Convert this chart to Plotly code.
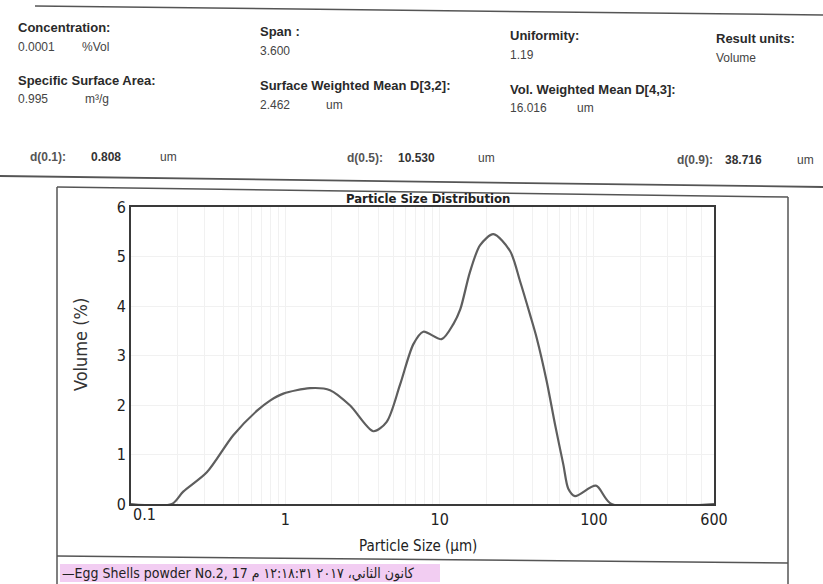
import plotly.graph_objects as go

# ---------------- data ----------------
size_um = [0.1, 0.184, 0.218, 0.310, 0.460, 0.653, 0.796, 0.971, 1.445, 1.95, 2.63,
           3.72, 4.54, 5.54, 6.76, 7.84, 10.3, 12.3, 13.6, 15.7, 18.3, 22.3, 28.6,
           33.2, 38.5, 42.6, 49.4, 56.0, 63.4, 68.2, 75.4, 103, 130, 600]
volume_pct = [0, 0, 0.25, 0.64, 1.39, 1.88, 2.09, 2.23, 2.34, 2.30, 1.99,
              1.47, 1.66, 2.41, 3.23, 3.48, 3.33, 3.64, 3.93, 4.68, 5.23, 5.45, 5.11,
              4.50, 3.83, 3.35, 2.48, 1.60, 0.79, 0.31, 0.16, 0.37, 0, 0]

x_label_vals = [0.1, 1, 10, 100, 600]
x_label_text = ["0.1", "1", "10", "100", "600"]
x_minor_grid = [0.2, 0.3, 0.4, 0.5, 0.6, 0.7, 0.8, 0.9,
                2, 3, 4, 5, 6, 7, 8, 9,
                20, 30, 40, 50, 60, 70, 80, 90, 200, 300, 400, 500]
y_ticks = [0, 1, 2, 3, 4, 5, 6]

header_labels = ["Concentration:", "Span :", "Uniformity:", "Result units:",
                 "Specific Surface Area:", "Surface Weighted Mean D[3,2]:",
                 "Vol. Weighted Mean D[4,3]:"]
header_values = ["0.0001", "3.600", "1.19", "Volume", "0.995", "2.462", "16.016"]
header_units = ["%Vol", "", "", "", "m³/g", "um", "um"]
d_labels = ["d(0.1):", "d(0.5):", "d(0.9):"]
d_values = ["0.808", "10.530", "38.716"]
sample_name = "Egg Shells powder No.2, 17\u200e كانون الثاني، ٢٠١٧ ١٢:١٨:٣١ م"

# ---------------- geometry helpers ----------------
W, H = 823, 584
L, R, T, B = 131, 714, 207, 504


def px(x):
    return (x - L) / (R - L)


def py(y):
    return (B - y) / (B - T)


NARROW = "Liberation Sans Narrow, DejaVu Sans Condensed, Arial Narrow, Roboto, sans-serif"
ARIAL = "Liberation Sans, Arial, sans-serif"

fig = go.Figure()
fig.add_trace(go.Scatter(
    x=size_um, y=volume_pct, mode="lines",
    line=dict(color="#5e5e5e", width=2.2, shape="spline", smoothing=0.8),
    showlegend=False, hoverinfo="x+y"))

grid_vals = sorted(x_label_vals + x_minor_grid)
# first label (0.1) is drawn as an annotation, nudged right as in the reference
grid_text = [x_label_text[x_label_vals.index(v)] if (v in x_label_vals and v != x_label_vals[0]) else ""
             for v in grid_vals]

fig.update_xaxes(type="log", range=[-1, 2.778], tickvals=grid_vals, ticktext=grid_text,
                 showgrid=True, gridcolor="#f1f1f1", gridwidth=1,
                 showline=True, linecolor="#3a3a3a", linewidth=1.6, mirror=True,
                 ticks="", zeroline=False,
                 tickfont=dict(family=NARROW, size=16, color="#222"))
fig.update_yaxes(range=[0, 6], tickvals=y_ticks,
                 showgrid=True, gridcolor="#f1f1f1", gridwidth=1,
                 showline=True, linecolor="#3a3a3a", linewidth=1.6, mirror=True,
                 ticks="", zeroline=False,
                 tickfont=dict(family=NARROW, size=16, color="#222"))

ann = []


def text(x, y, s, size=12, bold=False, color="#333", family=ARIAL, anchor="left", angle=0):
    ann.append(dict(x=px(x), y=py(y), xref="paper", yref="paper", text=("<b>%s</b>" % s) if bold else s,
                    showarrow=False, xanchor=anchor, yanchor="middle", textangle=angle,
                    borderpad=0, font=dict(family=family, size=size, color=color)))


# header block
label_pos = [(17, 27), (259, 32), (509, 35), (715, 38), (17, 80), (259, 86), (509, 89)]
value_pos = [(17, 47), (259, 51), (509, 55), (715, 58), (17, 99), (259, 105), (509, 108)]
unit_x = [81, None, None, None, 84, 325, 576]
for i, lab in enumerate(header_labels):
    text(*label_pos[i], lab, size=13, bold=True, color="#2a2a2a")
    text(*value_pos[i], header_values[i], size=12, color="#444")
    if header_units[i]:
        text(unit_x[i], value_pos[i][1], header_units[i], size=12, color="#444")

d_lab_x = [29, 346, 676]
d_val_x = [90, 397, 724]
d_unit_x = [159, 477, 796]
d_y = [157, 158, 160]
for i in range(3):
    text(d_lab_x[i], d_y[i], d_labels[i], size=12, bold=True, color="#555")
    text(d_val_x[i], d_y[i], d_values[i], size=12, bold=True, color="#333")
    text(d_unit_x[i], d_y[i], "um", size=12, color="#444")

# chart texts
ann.append(dict(x=px(428), y=py(207), xref="paper", yref="paper", text="<b>Particle Size Distribution</b>",
                showarrow=False, xanchor="center", yanchor="bottom", borderpad=0,
                font=dict(family=NARROW, size=13, color="#222")))
text(144, 514, x_label_text[0], size=16, color="#222", family=NARROW, anchor="center")
text(80, 345, "Volume (%)", size=18, color="#333", family=NARROW, anchor="center", angle=-90)
text(418, 546, "Particle Size (µm)", size=15, color="#222", family=NARROW, anchor="center")
text(61, 573, "\u2014" + sample_name, size=14, color="#222", family=NARROW)

shapes = []


def line(x0, y0, x1, y1, color="#444", width=1.5):
    shapes.append(dict(type="line", xref="paper", yref="paper", x0=px(x0), y0=py(y0),
                       x1=px(x1), y1=py(y1), line=dict(color=color, width=width)))


# pink highlight behind sample name
shapes.append(dict(type="rect", xref="paper", yref="paper", x0=px(60), x1=px(440),
                   y0=py(582), y1=py(564), fillcolor="#f2cdf2", line=dict(width=0), layer="below"))
line(35, 6, 823, 15, "#555", 1.5)
line(0, 176, 823, 187, "#555", 1.8)
line(57, 187, 788, 197, "#555", 1.5)
line(57, 187, 57, 584, "#555", 1.5)
line(788, 197, 788, 584, "#555", 1.5)
line(57, 556, 788, 563, "#555", 1.5)

fig.update_layout(width=W, height=H, margin=dict(l=L, r=W - R, t=T, b=H - B),
                  paper_bgcolor="white", plot_bgcolor="white",
                  annotations=ann, shapes=shapes, showlegend=False)

fig.write_html("out.html")
